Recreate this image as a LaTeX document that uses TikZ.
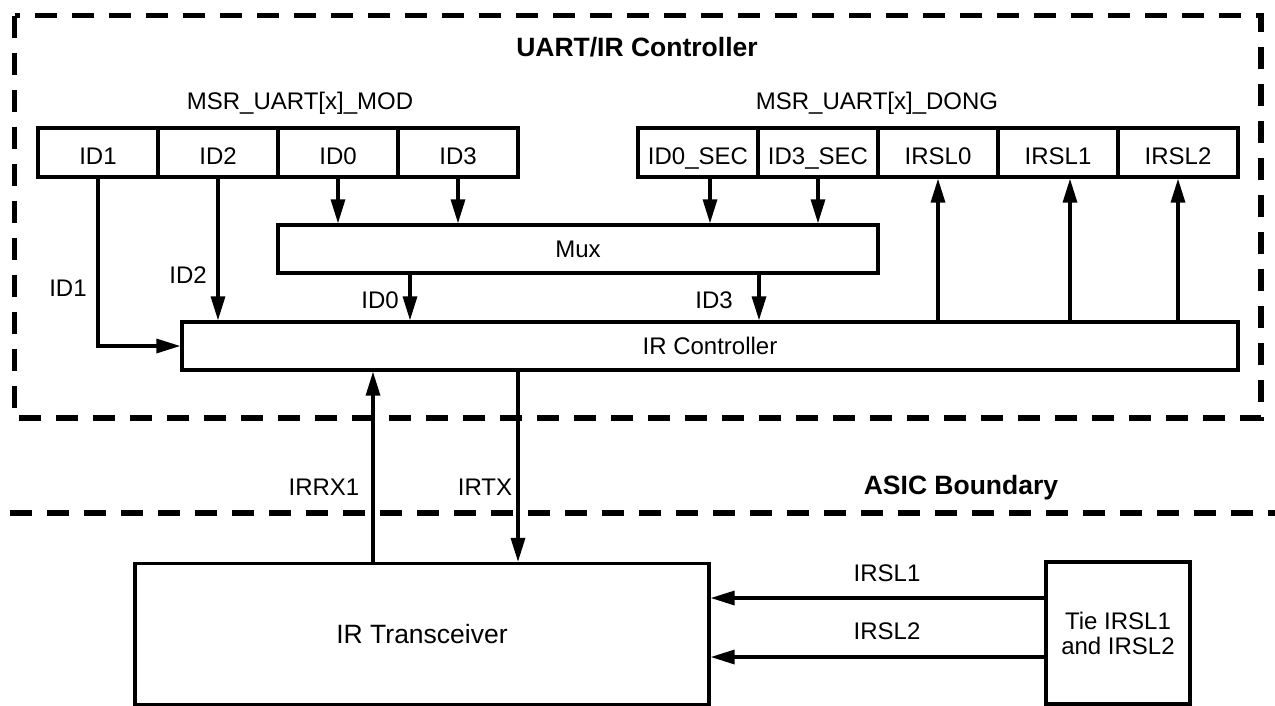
\documentclass[tikz,border=0pt]{standalone}
\usepackage{fontspec}
\setmainfont{Liberation Sans}
\usetikzlibrary{arrows.meta}
\begin{document}
\begin{tikzpicture}[x=1pt,y=-1pt,
  txt/.style={font=\fontsize{24}{28}\selectfont, inner sep=0pt},
  btxt/.style={font=\fontsize{26.5}{30}\selectfont\bfseries, inner sep=0pt},
  cell/.style={draw, line width=3.3pt, minimum width=120pt, minimum height=49pt, inner sep=0pt, text height=26pt, text depth=3pt, font=\fontsize{24}{28}\selectfont},
  blk/.style={draw, line width=3.3pt, inner sep=0pt, font=\fontsize{24}{28}\selectfont, align=center},
  arr/.style={line width=3.3pt, -{Triangle[length=24pt,width=14pt]}},
  dashline/.style={line width=5.5pt, dash pattern=on 22pt off 15pt}
]
\useasboundingbox (0,0) rectangle (1275,705);

% outer boundary
\draw[dashline] (14.5,15.5) rectangle (1261,418);
\draw[dashline] (10,513) -- (1275,513);

\node[btxt] (title) at (637,47) {UART/IR Controller};
\node[txt] (modlbl) at (300,103) {MSR\_UART[x]\_MOD};
\node[txt] (donglbl) at (877,103) {MSR\_UART[x]\_DONG};

% registers
\node[cell] (ID1) at (98,152.5) {ID1};
\node[cell] (ID2) at (218,152.5) {ID2};
\node[cell] (ID0) at (338,152.5) {ID0};
\node[cell] (ID3) at (458,152.5) {ID3};
\node[cell] (ID0S) at (698,152.5) {ID0\_SEC};
\node[cell] (ID3S) at (818,152.5) {ID3\_SEC};
\node[cell] (IRSL0) at (938,152.5) {IRSL0};
\node[cell] (IRSL1) at (1058,152.5) {IRSL1};
\node[cell] (IRSL2) at (1178,152.5) {IRSL2};

% blocks
\node[blk, minimum width=600pt, minimum height=48pt] (mux) at (578,249) {Mux};
\node[blk, minimum width=1056pt, minimum height=48pt] (irc) at (710,346) {IR Controller};
\node[blk, minimum width=574pt, minimum height=141pt, font=\fontsize{26.5}{30}\selectfont] (trans) at (422,634) {IR Transceiver};
\node[blk, minimum width=144pt, minimum height=142pt, font=\fontsize{24}{25}\selectfont] (tie) at (1118,633) {Tie IRSL1\\and IRSL2};

% column coordinates
\coordinate (c0s) at (710,0);
\coordinate (c1) at (1070,0);
\coordinate (m0) at (410,0);
\coordinate (m3) at (759,0);
\coordinate (rx) at (373,0);
\coordinate (tx) at (518,0);
\coordinate (r1) at (0,598);
\coordinate (r2) at (0,657);

% register to controller
\draw[arr] (ID1.south) |- (irc.west);
\draw[arr] (ID2.south) -- (ID2.south |- irc.north);
\draw[arr] (ID0.south) -- (ID0.south |- mux.north);
\draw[arr] (ID3.south) -- (ID3.south |- mux.north);
\draw[arr] (ID0S.south -| c0s) -- (mux.north -| c0s);
\draw[arr] (ID3S.south) -- (ID3S.south |- mux.north);
\draw[arr] (mux.south -| m0) -- (irc.north -| m0);
\draw[arr] (mux.south -| m3) -- (irc.north -| m3);
\draw[arr] (irc.north -| IRSL0.south) -- (IRSL0.south);
\draw[arr] (irc.north -| c1) -- (IRSL1.south -| c1);
\draw[arr] (irc.north -| IRSL2.south) -- (IRSL2.south);

% transceiver
\draw[arr] (trans.north -| rx) -- (irc.south -| rx);
\draw[arr] (irc.south -| tx) -- (trans.north -| tx);
\draw[arr] (tie.west |- r1) -- (trans.east |- r1);
\draw[arr] (tie.west |- r2) -- (trans.east |- r2);

% labels
\node[txt] (lid1) at (68,288) {ID1};
\node[txt] (lid2) at (188,275) {ID2};
\node[txt] (lid0) at (380,300) {ID0};
\node[txt] (lid3) at (714,300) {ID3};
\node[txt] (lrx) at (324,487) {IRRX1};
\node[txt] (ltx) at (485,487) {IRTX};
\node[btxt] (asic) at (961,488) {ASIC Boundary};
\node[txt] (ls1) at (887,573) {IRSL1};
\node[txt] (ls2) at (887,631) {IRSL2};
\end{tikzpicture}
\end{document}
